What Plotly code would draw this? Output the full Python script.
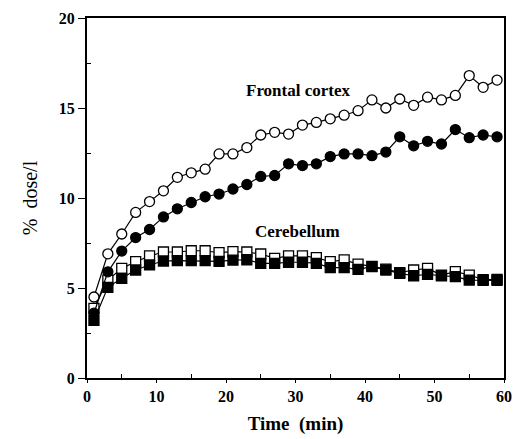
import plotly.graph_objects as go

time_min = [1, 3, 5, 7, 9, 11, 13, 15, 17, 19, 21, 23, 25, 27, 29,
            31, 33, 35, 37, 39, 41, 43, 45, 47, 49, 51, 53, 55, 57, 59]

frontal_open = [4.5, 6.9, 8.0, 9.2, 9.8, 10.4, 11.15, 11.4, 11.6, 12.45,
                12.45, 12.8, 13.5, 13.65, 13.55, 14.05, 14.2, 14.4, 14.6, 14.85,
                15.45, 15.0, 15.5, 15.15, 15.6, 15.45, 15.7, 16.8, 16.15, 16.55]

frontal_filled = [3.6, 5.9, 7.05, 7.8, 8.25, 8.95, 9.4, 9.75, 10.07, 10.22,
                  10.5, 10.75, 11.2, 11.25, 11.9, 11.8, 11.9, 12.3, 12.45, 12.45,
                  12.35, 12.55, 13.4, 12.9, 13.15, 13.0, 13.8, 13.35, 13.5, 13.4]

cereb_open = [3.87, 5.44, 6.09, 6.46, 6.78, 7.0, 7.0, 7.07, 7.07, 6.96,
              7.02, 7.0, 6.89, 6.65, 6.78, 6.78, 6.69, 6.46, 6.56, 6.33,
              6.2, 6.05, 5.85, 6.0, 6.09, 5.72, 5.91, 5.72, 5.47, 5.48]

cereb_filled = [3.2, 5.04, 5.54, 6.0, 6.28, 6.5, 6.52, 6.52, 6.52, 6.48,
                6.55, 6.57, 6.37, 6.37, 6.43, 6.43, 6.37, 6.13, 6.13, 6.04,
                6.19, 6.0, 5.81, 5.68, 5.76, 5.68, 5.63, 5.44, 5.42, 5.42]

x_ticks = [0, 10, 20, 30, 40, 50, 60]
y_ticks = [0, 5, 10, 15, 20]

labels = ["Frontal cortex", "Cerebellum"]
label_x = [30.5, 30.3]
label_y = [16.0, 8.15]

serif = "Liberation Serif, Times New Roman, serif"

fig = go.Figure()

def add(y, symbol, fill):
    fig.add_trace(go.Scatter(
        x=time_min, y=y, mode="lines+markers",
        line=dict(color="black", width=1.2),
        marker=dict(symbol=symbol, size=10,
                    color=fill, line=dict(color="black", width=1.3)),
        showlegend=False))

add(cereb_open, "square", "white")
add(cereb_filled, "square", "black")
add(frontal_filled, "circle", "black")
add(frontal_open, "circle", "white")

for t, lx, ly in zip(labels, label_x, label_y):
    fig.add_annotation(x=lx, y=ly, text=t, showarrow=False,
                       font=dict(family=serif, size=17, color="black", weight="bold"))

fig.update_layout(
    width=515, height=439,
    margin=dict(l=87, r=11, t=18, b=61),
    plot_bgcolor="white", paper_bgcolor="white",
    font=dict(family=serif, color="black"),
)

fig.update_xaxes(
    range=[0, 60], tickvals=x_ticks, ticktext=[str(v) for v in x_ticks],
    showgrid=False, zeroline=False, automargin=False,
    showline=True, linecolor="black", linewidth=1.5, mirror=True,
    ticks="outside", ticklen=3, tickwidth=1.2, tickcolor="black",
    minor=dict(tickvals=[5, 15, 25, 35, 45, 55], ticks="inside", ticklen=4,
               tickwidth=1, tickcolor="black"),
    tickfont=dict(family=serif, size=16, color="black", weight="bold"),
    title=dict(text="Time  (min)",
               font=dict(family=serif, size=19, color="black", weight="bold"),
               standoff=13),
)

fig.update_yaxes(
    range=[0, 20], tickvals=y_ticks, ticktext=[str(v) for v in y_ticks],
    showgrid=False, zeroline=False, automargin=False,
    showline=True, linecolor="black", linewidth=2, mirror=True,
    ticks="outside", ticklen=7, tickwidth=1.2, tickcolor="black",
    minor=dict(tickvals=[2.5, 7.5, 12.5, 17.5], ticks="inside", ticklen=4,
               tickwidth=1, tickcolor="black"),
    tickfont=dict(family=serif, size=16, color="black", weight="bold"),
    title=dict(text="%  dose/l", font=dict(family=serif, size=20, color="black"),
               standoff=16),
)

fig.write_html("out.html", config={"displayModeBar": False})

with open("out.html", "r", encoding="utf-8") as f:
    html = f.read()
html = html.replace("<body>", '<body style="margin:0;padding:0;">', 1)
with open("out.html", "w", encoding="utf-8") as f:
    f.write(html)
